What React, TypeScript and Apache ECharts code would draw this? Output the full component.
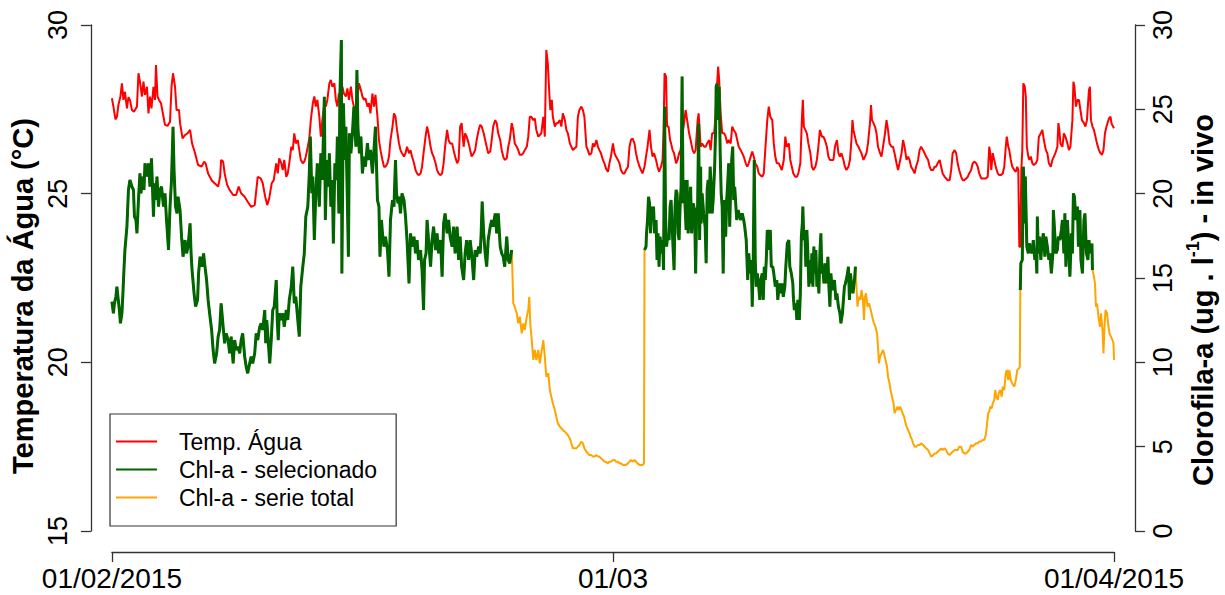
import React, { useEffect, useRef } from "react";
import * as echarts from "echarts";

// x values: fraction of the period, 0 = 01/02/2015, 1 = 01/03, 2 = 01/04/2015
const xTickLabels = ["01/02/2015", "01/03", "01/04/2015"];

// Temperatura da água (°C)
const tempData: [number, number][] = [
[0,27.83],[0.003,27.58],[0.007,27.20],[0.010,27.28],[0.013,27.63],[0.017,27.88],[0.020,28.27],[0.023,27.78],[0.026,28.02],[0.030,27.53],[0.033,27.86],[0.036,27.78],[0.040,27.48],[0.044,27.43],[0.050,27.58],[0.053,28.57],[0.056,28.32],[0.060,27.88],[0.063,28.32],[0.066,27.93],[0.070,28.17],[0.073,27.38],[0.076,27.88],[0.079,27.53],[0.083,28.17],[0.086,27.78],[0.088,28.81],[0.091,27.88],[0.094,27.78],[0.098,27.68],[0.103,27.28],[0.106,27.04],[0.111,27.01],[0.116,27.13],[0.119,28.17],[0.122,28.57],[0.126,28.17],[0.129,27.48],[0.134,27.48],[0.136,27.09],[0.141,26.64],[0.146,26.74],[0.151,26.79],[0.156,26.89],[0.160,26.49],[0.166,26.20],[0.172,25.85],[0.179,25.80],[0.184,25.95],[0.187,25.90],[0.192,25.60],[0.199,25.40],[0.205,25.31],[0.212,25.21],[0.216,25.50],[0.218,26.00],[0.222,25.95],[0.225,25.60],[0.230,25.26],[0.235,25.11],[0.242,24.96],[0.248,24.96],[0.253,25.21],[0.258,25.01],[0.265,24.91],[0.271,24.76],[0.278,24.61],[0.285,24.66],[0.291,25.50],[0.297,25.45],[0.301,25.31],[0.306,24.91],[0.310,24.66],[0.314,24.86],[0.319,25.31],[0.323,25.40],[0.328,25.90],[0.331,25.60],[0.334,26.05],[0.338,25.90],
[0.341,25.70],[0.344,26.00],[0.348,25.50],[0.351,25.60],[0.354,25.90],[0.358,26.39],[0.361,26.29],[0.364,26.79],[0.367,26.49],[0.371,26.59],[0.374,26.29],[0.377,26.00],[0.381,25.90],[0.384,25.95],[0.387,26.10],[0.391,26.39],[0.394,26.64],[0.397,27.18],[0.401,27.68],[0.404,27.88],[0.407,27.58],[0.410,27.78],[0.414,27.28],[0.417,26.69],[0.420,27.18],[0.424,27.68],[0.427,27.58],[0.430,27.78],[0.434,28.27],[0.437,28.37],[0.440,28.17],[0.444,28.27],[0.447,27.78],[0.450,27.58],[0.453,27.97],[0.457,27.58],[0.460,28.17],[0.463,27.97],[0.467,27.88],[0.470,28.12],[0.473,27.78],[0.477,28.17],[0.480,27.78],[0.483,27.58],[0.487,27.48],[0.490,27.78],[0.493,28.27],[0.497,28.07],[0.500,27.88],[0.503,27.78],[0.506,27.83],[0.510,27.58],[0.513,27.68],[0.516,27.38],[0.520,27.97],[0.523,27.58],[0.526,27.93],[0.530,27.28],[0.533,26.59],[0.536,26.29],[0.540,26.00],[0.543,25.80],[0.546,25.80],[0.550,25.90],[0.553,26.10],[0.556,26.59],[0.560,26.99],[0.563,27.38],[0.566,27.28],[0.569,26.89],[0.573,26.49],[0.576,26.29],[0.579,26.20],[0.583,26.10],[0.586,26.20],[0.589,26.39],[0.593,26.20],[0.596,26.29],[0.599,26.10],[0.603,25.90],[0.606,25.70],[0.609,25.60],[0.612,25.55],[0.616,25.60],[0.619,25.80],[0.622,26.20],[0.626,26.69],[0.629,26.99],[0.632,26.79],[0.636,26.39],[0.639,26.20],[0.642,26.10],[0.646,25.90],[0.649,25.70],[0.652,25.60],[0.656,25.55],[0.659,25.60],[0.662,25.90],[0.665,26.39],[0.669,26.89],[0.672,26.59],[0.675,26.49],
[0.679,26.49],[0.682,26.29],[0.685,26.10],[0.689,25.90],[0.692,26.00],[0.695,26.99],[0.698,27.09],[0.702,26.39],[0.705,26.79],[0.708,26.69],[0.712,26.49],[0.715,26.29],[0.718,26.10],[0.722,26.20],[0.725,26.29],[0.728,26.59],[0.732,26.89],[0.735,27.04],[0.738,26.99],[0.742,26.79],[0.745,26.59],[0.748,26.39],[0.751,26.20],[0.755,26.25],[0.758,26.59],[0.761,26.99],[0.765,27.18],[0.768,27.09],[0.771,26.79],[0.775,26.59],[0.778,26.29],[0.781,26.10],[0.784,26.00],[0.788,26.05],[0.791,26.39],[0.794,26.59],[0.798,27.09],[0.801,26.89],[0.804,26.49],[0.808,26.39],[0.811,26.29],[0.814,26.15],[0.818,26.15],[0.821,26.20],[0.824,26.29],[0.828,26.39],[0.831,26.69],[0.834,27.28],[0.837,27.28],[0.841,27.18],[0.844,27.23],[0.847,26.89],[0.851,26.69],[0.854,26.74],[0.857,26.79],[0.861,27.28],[0.864,26.69],[0.867,29.26],[0.870,28.86],[0.873,27.97],[0.875,27.48],[0.878,27.78],[0.880,27.28],[0.884,26.99],[0.887,27.09],[0.890,27.09],[0.894,27.18],[0.897,26.99],[0.900,27.38],[0.904,27.18],[0.907,26.89],[0.910,26.79],[0.914,26.49],[0.917,26.39],[0.920,26.29],[0.923,26.34],[0.927,26.39],[0.930,27.28],[0.933,27.48],[0.937,27.58],[0.940,27.48],[0.943,27.28],[0.947,26.39],[0.950,26.29],[0.953,26.15],[0.957,26.20],[0.960,26.49],[0.963,26.39],[0.967,26.59],[0.970,26.39],[0.973,26.29],[0.976,26.20],[0.980,26.00],[0.983,25.90],[0.986,25.75],[0.990,25.65],[0.993,25.90],[0.996,26.10],[1.000,26.49],[1.003,26.20],[1.006,26.10],[1.010,26.00],[1.013,25.90],
[1.016,25.70],[1.020,25.60],[1.023,25.60],[1.026,25.70],[1.030,25.80],[1.033,26.39],[1.036,26.59],[1.039,26.64],[1.043,26.49],[1.046,26.20],[1.049,26.00],[1.053,25.80],[1.056,25.70],[1.059,25.60],[1.063,25.80],[1.066,26.10],[1.069,26.39],[1.073,26.89],[1.076,26.39],[1.079,26.10],[1.082,26.20],[1.086,26.00],[1.089,25.80],[1.092,25.65],[1.096,25.80],[1.099,26.00],[1.101,26.89],[1.103,28.57],[1.106,28.47],[1.108,26.99],[1.111,26.99],[1.114,26.59],[1.116,26.49],[1.119,26.29],[1.122,26.20],[1.126,25.90],[1.129,26.00],[1.132,26.20],[1.135,26.29],[1.139,26.79],[1.142,27.09],[1.145,27.48],[1.149,27.09],[1.152,26.79],[1.155,26.59],[1.159,26.29],[1.162,26.20],[1.165,26.29],[1.169,27.18],[1.171,27.38],[1.173,26.89],[1.175,26.39],[1.178,26.49],[1.182,26.39],[1.185,26.39],[1.188,26.49],[1.192,26.59],[1.195,26.29],[1.198,26.79],[1.202,26.79],[1.205,27.38],[1.208,28.27],[1.210,28.77],[1.212,28.37],[1.215,27.38],[1.218,26.79],[1.222,26.79],[1.225,26.69],[1.228,26.49],[1.231,26.59],[1.235,26.49],[1.238,26.99],[1.241,26.89],[1.245,26.79],[1.248,26.59],[1.251,26.39],[1.255,26.29],[1.258,26.20],[1.261,26.10],[1.265,25.90],[1.268,25.80],[1.271,25.90],[1.275,26.10],[1.278,26.25],[1.281,26.10],[1.284,25.90],[1.288,25.80],[1.291,25.60],[1.294,25.55],[1.298,25.50],[1.301,25.60],[1.304,26.29],[1.308,27.18],[1.311,27.58],[1.314,27.28],[1.318,27.18],[1.321,26.49],[1.324,26.10],[1.327,25.90],[1.331,25.90],[1.334,25.80],[1.337,25.70],[1.341,26.00],[1.344,26.69],[1.347,26.39],[1.351,26.49],
[1.354,26.00],[1.357,25.80],[1.360,25.60],[1.364,25.50],[1.367,25.50],[1.370,25.60],[1.374,25.90],[1.377,27.18],[1.379,27.78],[1.381,26.99],[1.384,26.89],[1.387,26.79],[1.390,26.49],[1.394,26.20],[1.397,25.80],[1.400,25.70],[1.404,25.80],[1.407,26.00],[1.410,26.39],[1.413,26.89],[1.417,26.69],[1.420,26.69],[1.423,26.59],[1.427,26.39],[1.430,26.10],[1.433,26.00],[1.437,26.00],[1.440,26.00],[1.443,26.39],[1.447,26.59],[1.450,26.20],[1.453,26.10],[1.456,26.20],[1.460,26.00],[1.463,25.80],[1.466,25.70],[1.470,25.80],[1.473,26.00],[1.476,26.59],[1.478,27.18],[1.480,26.89],[1.483,26.69],[1.486,26.49],[1.490,26.39],[1.493,26.29],[1.496,26.20],[1.500,26.00],[1.503,26.10],[1.506,26.20],[1.509,26.49],[1.513,27.09],[1.515,27.63],[1.517,27.18],[1.520,27.09],[1.523,26.99],[1.526,26.79],[1.529,26.39],[1.533,26.20],[1.536,26.10],[1.539,26.39],[1.543,26.79],[1.546,27.18],[1.549,26.89],[1.552,26.49],[1.556,26.39],[1.559,26.39],[1.562,26.20],[1.566,25.90],[1.569,25.70],[1.572,25.90],[1.576,26.20],[1.579,26.59],[1.582,26.39],[1.586,26.00],[1.589,26.10],[1.592,26.00],[1.595,25.80],[1.599,25.70],[1.602,25.60],[1.605,25.80],[1.609,26.00],[1.612,26.29],[1.615,26.39],[1.619,26.29],[1.622,26.20],[1.625,26.10],[1.629,26.00],[1.632,25.80],[1.635,25.70],[1.639,25.70],[1.642,25.80],[1.645,25.80],[1.648,25.90],[1.652,26.00],[1.655,25.80],[1.658,25.60],[1.662,25.50],[1.665,25.45],[1.668,25.40],[1.672,25.40],[1.675,25.70],[1.678,26.20],[1.682,26.29],[1.685,26.20],[1.688,25.90],
[1.691,25.70],[1.695,25.50],[1.698,25.40],[1.701,25.40],[1.705,25.45],[1.708,25.50],[1.711,25.60],[1.715,25.70],[1.718,25.90],[1.721,25.95],[1.725,25.90],[1.728,25.80],[1.731,25.60],[1.735,25.45],[1.738,25.45],[1.741,25.45],[1.744,25.45],[1.748,25.50],[1.751,26.39],[1.753,26.20],[1.755,25.70],[1.758,26.20],[1.761,26.00],[1.764,25.80],[1.768,25.60],[1.771,25.55],[1.774,25.55],[1.778,25.60],[1.781,25.80],[1.784,26.39],[1.786,26.69],[1.789,26.39],[1.791,26.29],[1.794,26.00],[1.797,25.80],[1.801,25.70],[1.804,25.65],[1.807,25.80],[1.809,25.70],[1.811,23.43],[1.813,23.43],[1.815,25.70],[1.817,26.29],[1.819,28.27],[1.822,28.17],[1.824,27.88],[1.826,26.39],[1.829,26.10],[1.831,26.00],[1.834,26.10],[1.837,25.90],[1.840,25.85],[1.844,25.90],[1.847,26.00],[1.850,26.69],[1.854,26.79],[1.857,26.89],[1.860,26.59],[1.864,26.29],[1.867,26.20],[1.870,25.90],[1.874,25.80],[1.877,26.00],[1.880,26.10],[1.883,26.20],[1.887,26.39],[1.889,27.09],[1.891,26.89],[1.893,26.49],[1.897,26.39],[1.900,26.79],[1.903,26.69],[1.907,26.49],[1.910,26.29],[1.913,26.39],[1.917,27.18],[1.919,28.32],[1.921,28.17],[1.924,27.58],[1.927,27.78],[1.930,27.78],[1.933,27.48],[1.936,27.18],[1.940,27.09],[1.943,26.99],[1.946,27.18],[1.950,28.07],[1.952,28.17],[1.954,27.18],[1.957,26.99],[1.960,26.89],[1.963,26.69],[1.966,26.49],[1.970,26.29],[1.973,26.20],[1.976,26.15],[1.979,26.29],[1.982,26.79],[1.985,26.99],[1.987,27.09],[1.990,27.23],[1.993,27.28],[1.995,27.09],[1.998,26.99],[2.000,26.94]
];

// Clorofila-a (ug/l) - serie total
const chlData: [number, number][] = [
[0.000,13.60],[0.003,12.91],[0.005,13.50],[0.008,13.89],[0.010,14.49],[0.012,13.89],[0.015,13.10],[0.017,12.31],[0.020,12.91],[0.022,14.09],[0.024,15.47],[0.026,16.66],[0.030,18.04],[0.033,20.22],[0.036,20.81],[0.040,20.41],[0.043,20.22],[0.045,18.64],[0.048,18.44],[0.050,17.65],[0.053,19.63],[0.056,21.20],[0.058,20.02],[0.061,21.01],[0.064,20.22],[0.066,21.80],[0.070,21.01],[0.073,21.80],[0.076,20.41],[0.079,22.09],[0.083,18.64],[0.085,20.61],[0.087,19.63],[0.090,21.01],[0.093,19.23],[0.096,20.22],[0.099,20.41],[0.103,19.23],[0.106,20.02],[0.109,18.44],[0.113,16.66],[0.116,19.23],[0.119,20.81],[0.122,23.97],[0.124,21.40],[0.127,19.23],[0.130,18.83],[0.132,19.82],[0.136,19.03],[0.139,17.45],[0.142,16.26],[0.146,17.25],[0.149,16.46],[0.152,16.86],[0.156,18.24],[0.158,16.46],[0.160,15.47],[0.164,14.09],[0.167,13.30],[0.171,13.70],[0.173,15.27],[0.176,16.26],[0.180,15.67],[0.183,16.46],[0.185,15.87],[0.189,14.88],[0.192,13.70],[0.195,12.91],[0.199,11.92],[0.202,10.73],[0.205,9.94],[0.209,10.53],[0.212,11.52],[0.215,11.92],[0.218,13.50],[0.222,12.11],[0.225,11.13],[0.228,11.72],[0.232,11.32],[0.235,10.53],[0.238,11.52],[0.242,9.94],[0.245,11.32],[0.248,10.73],[0.252,10.93],[0.255,10.53],[0.258,11.32],[0.261,11.72],[0.265,10.34],[0.268,9.74],[0.271,9.35],[0.275,9.94],[0.278,10.34],[0.281,9.94],[0.285,10.53],[0.288,11.72],[0.291,11.32],[0.295,12.11],[0.298,12.31],[0.301,11.92],[0.305,13.10],[0.307,11.13],[0.309,12.51],[0.311,11.72],[0.315,9.94],[0.318,11.32],[0.321,13.10],[0.324,13.30],[0.328,14.88],[0.330,12.51],[0.332,11.32],[0.334,12.91],[0.338,12.51],
[0.341,12.91],[0.344,12.11],[0.348,13.10],[0.351,12.51],[0.354,13.70],[0.358,14.49],[0.361,15.67],[0.364,13.50],[0.367,13.89],[0.371,12.51],[0.374,11.52],[0.377,14.49],[0.381,15.67],[0.384,16.46],[0.387,18.64],[0.391,19.23],[0.394,21.20],[0.396,23.38],[0.399,20.02],[0.401,21.01],[0.404,17.25],[0.407,20.02],[0.410,21.80],[0.414,19.23],[0.417,22.39],[0.420,20.81],[0.424,25.75],[0.426,18.44],[0.429,22.00],[0.432,20.41],[0.434,22.39],[0.437,19.23],[0.440,20.81],[0.442,17.05],[0.445,21.80],[0.448,20.81],[0.450,23.38],[0.453,18.83],[0.455,25.75],[0.458,29.11],[0.459,15.27],[0.462,25.36],[0.465,22.00],[0.467,23.97],[0.470,19.43],[0.472,16.26],[0.474,23.58],[0.477,22.39],[0.480,23.58],[0.483,25.16],[0.487,22.79],[0.489,27.33],[0.491,23.97],[0.494,22.39],[0.497,23.38],[0.500,21.20],[0.503,22.19],[0.506,21.60],[0.510,22.99],[0.513,22.00],[0.516,22.59],[0.520,21.20],[0.523,22.59],[0.526,23.97],[0.530,19.62],[0.533,19.23],[0.535,16.26],[0.538,18.44],[0.540,17.65],[0.543,16.86],[0.546,17.45],[0.550,16.66],[0.553,15.08],[0.556,18.44],[0.560,19.62],[0.563,19.23],[0.566,22.00],[0.568,20.02],[0.571,19.43],[0.573,19.82],[0.576,18.83],[0.579,20.02],[0.583,19.62],[0.586,18.64],[0.589,17.25],[0.593,14.68],[0.596,17.65],[0.599,16.86],[0.603,17.45],[0.606,16.46],[0.609,17.25],[0.612,16.07],[0.616,16.66],[0.619,15.47],[0.622,13.10],[0.624,16.07],[0.627,16.46],[0.629,18.44],[0.632,17.25],[0.636,15.67],[0.639,17.25],[0.642,18.04],[0.646,16.66],[0.649,17.65],[0.652,16.46],[0.656,17.25],[0.659,15.08],[0.662,18.24],[0.665,18.83],[0.669,17.65],[0.672,18.44],[0.675,17.45],
[0.679,16.86],[0.682,18.04],[0.685,16.46],[0.689,18.04],[0.692,16.07],[0.695,17.45],[0.698,15.67],[0.702,14.88],[0.705,16.46],[0.708,17.25],[0.712,16.07],[0.715,17.25],[0.718,16.46],[0.722,14.88],[0.725,16.66],[0.728,16.26],[0.732,16.86],[0.735,16.46],[0.737,17.65],[0.739,19.53],[0.742,17.65],[0.745,16.46],[0.748,15.67],[0.751,17.25],[0.755,18.04],[0.758,18.44],[0.761,18.04],[0.765,18.83],[0.768,17.65],[0.771,18.83],[0.775,16.86],[0.778,16.46],[0.781,16.26],[0.784,15.67],[0.788,17.45],[0.791,16.07],[0.794,15.87],[0.798,16.66],[0.800,14.68],[0.801,13.50],[0.804,13.30],[0.808,12.91],[0.811,12.31],[0.814,12.71],[0.818,11.72],[0.821,12.31],[0.824,11.92],[0.828,12.71],[0.831,13.10],[0.833,13.89],[0.835,12.31],[0.838,11.32],[0.841,10.14],[0.844,10.73],[0.847,10.14],[0.851,10.73],[0.854,9.94],[0.857,10.53],[0.861,11.32],[0.864,10.34],[0.867,9.15],[0.871,9.35],[0.874,8.36],[0.877,7.96],[0.880,7.57],[0.884,7.17],[0.887,6.78],[0.890,6.38],[0.894,6.19],[0.897,6.09],[0.900,5.99],[0.904,5.89],[0.907,5.79],[0.910,5.69],[0.914,5.49],[0.917,5.20],[0.920,4.90],[0.923,4.90],[0.927,4.90],[0.930,5.00],[0.933,5.10],[0.937,5.30],[0.940,5.20],[0.943,4.90],[0.947,4.70],[0.950,4.60],[0.953,4.50],[0.957,4.50],[0.960,4.41],[0.963,4.41],[0.967,4.50],[0.970,4.41],[0.973,4.41],[0.976,4.31],[0.980,4.21],[0.983,4.11],[0.986,4.11],[0.990,4.01],[0.993,4.11],[0.996,4.11],[1.000,4.21],[1.003,4.21],[1.006,4.11],[1.010,4.11],[1.013,4.01],
[1.016,4.01],[1.020,3.91],[1.026,3.91],[1.030,4.01],[1.033,4.11],[1.036,4.21],[1.039,4.11],[1.043,4.21],[1.046,4.11],[1.049,4.01],[1.053,3.91],[1.056,3.91],[1.059,3.91],[1.062,4.01],[1.063,16.66],[1.066,16.86],[1.067,17.65],[1.069,18.44],[1.071,19.82],[1.073,19.43],[1.075,17.65],[1.077,19.23],[1.079,18.44],[1.081,19.23],[1.083,17.65],[1.086,18.44],[1.088,16.07],[1.090,17.65],[1.092,15.67],[1.094,17.45],[1.097,16.46],[1.099,17.25],[1.101,15.47],[1.103,25.16],[1.105,18.64],[1.107,16.86],[1.109,17.45],[1.112,17.25],[1.114,19.23],[1.116,19.62],[1.119,17.45],[1.122,15.47],[1.124,19.23],[1.126,20.22],[1.128,20.02],[1.130,17.65],[1.132,17.25],[1.134,19.23],[1.136,20.41],[1.138,26.94],[1.140,19.43],[1.142,20.81],[1.144,19.23],[1.146,17.85],[1.148,20.81],[1.150,17.65],[1.152,18.44],[1.155,20.41],[1.157,17.65],[1.160,19.43],[1.163,19.03],[1.165,15.27],[1.167,18.83],[1.169,19.23],[1.171,24.17],[1.173,17.25],[1.175,21.60],[1.176,18.24],[1.178,20.02],[1.181,18.83],[1.184,18.04],[1.186,15.87],[1.188,20.22],[1.190,20.81],[1.192,18.83],[1.194,21.60],[1.196,20.41],[1.198,18.83],[1.200,19.62],[1.203,21.60],[1.205,23.97],[1.206,26.34],[1.208,26.54],[1.210,24.37],[1.212,26.34],[1.214,22.39],[1.216,20.02],[1.218,19.23],[1.220,15.27],[1.222,19.62],[1.225,17.45],[1.227,19.62],[1.229,20.61],[1.231,21.80],[1.233,18.04],[1.235,20.41],[1.237,22.00],[1.239,22.79],[1.241,19.62],[1.243,20.41],[1.245,19.43],[1.247,18.44],[1.250,19.03],[1.253,18.64],[1.255,18.44],[1.258,18.83],[1.261,18.44],[1.263,18.04],[1.266,17.25],[1.269,14.88],[1.271,16.46],[1.274,15.27],[1.276,16.07],[1.278,13.30],[1.280,16.07],[1.282,22.00],[1.284,16.07],[1.286,14.49],[1.288,15.27],[1.291,14.49],[1.293,13.70],[1.295,14.88],[1.298,15.27],[1.300,13.70],[1.302,15.67],[1.304,14.88],[1.306,16.07],[1.308,17.85],[1.311,16.66],[1.314,17.85],[1.316,15.67],[1.319,15.67],[1.321,15.27],[1.324,14.49],[1.327,14.88],[1.329,13.70],[1.332,14.68],[1.335,14.09],[1.337,14.68],[1.340,13.89],[1.343,14.49],[1.345,15.67],[1.348,17.05],[1.351,17.25],
[1.353,15.67],[1.356,15.27],[1.359,14.68],[1.360,13.89],[1.362,13.10],[1.365,13.50],[1.367,12.51],[1.369,13.70],[1.372,12.51],[1.374,14.09],[1.376,17.45],[1.378,18.24],[1.379,19.23],[1.381,17.25],[1.383,17.85],[1.385,15.67],[1.387,17.85],[1.389,16.46],[1.391,14.49],[1.393,16.07],[1.395,14.68],[1.397,16.46],[1.399,14.49],[1.401,16.86],[1.403,15.27],[1.405,16.66],[1.407,14.49],[1.409,15.27],[1.411,14.09],[1.413,16.46],[1.415,17.65],[1.417,15.27],[1.419,15.67],[1.421,14.68],[1.423,15.87],[1.425,14.68],[1.427,15.27],[1.429,16.26],[1.431,14.49],[1.433,13.30],[1.435,15.27],[1.437,14.49],[1.439,14.29],[1.442,14.88],[1.445,13.70],[1.447,14.09],[1.450,13.30],[1.453,12.91],[1.455,12.31],[1.458,12.91],[1.460,13.70],[1.462,14.49],[1.464,14.68],[1.467,15.08],[1.470,15.67],[1.472,13.70],[1.474,15.27],[1.476,14.68],[1.479,14.09],[1.482,14.88],[1.484,15.67],[1.486,14.49],[1.488,13.30],[1.491,13.89],[1.494,13.70],[1.496,14.29],[1.499,13.70],[1.501,12.51],[1.503,13.89],[1.505,14.09],[1.508,13.30],[1.511,13.50],[1.513,13.30],[1.516,12.91],[1.519,12.51],[1.521,12.31],[1.524,12.11],[1.527,11.72],[1.529,10.93],[1.531,9.94],[1.533,10.34],[1.536,10.53],[1.539,10.73],[1.541,10.53],[1.544,10.14],[1.547,9.74],[1.549,9.15],[1.552,8.75],[1.554,8.36],[1.557,7.96],[1.560,7.57],[1.562,6.98],[1.565,7.17],[1.568,7.37],[1.570,7.17],[1.573,7.37],[1.576,7.17],[1.578,6.98],[1.581,6.78],[1.584,6.38],[1.586,6.19],[1.589,5.99],[1.592,5.79],[1.594,5.59],[1.597,5.40],[1.599,5.20],[1.602,5.00],[1.605,5.00],[1.609,5.10],[1.612,5.10],[1.615,5.20],[1.619,5.10],[1.622,5.00],[1.625,4.90],[1.629,4.80],[1.632,4.60],[1.635,4.41],[1.639,4.50],[1.642,4.60],[1.645,4.60],[1.648,4.70],[1.652,4.80],[1.655,4.90],[1.658,4.80],[1.662,4.90],[1.665,4.80],[1.668,4.60],[1.672,4.50],[1.675,4.60],[1.678,4.70],[1.682,4.80],[1.685,4.80],[1.688,4.80],
[1.691,5.00],[1.695,5.00],[1.698,4.70],[1.701,4.60],[1.705,4.60],[1.708,4.70],[1.711,4.80],[1.715,5.10],[1.718,5.00],[1.721,5.10],[1.725,5.20],[1.728,5.20],[1.731,5.30],[1.735,5.30],[1.738,5.40],[1.741,5.40],[1.744,5.69],[1.746,6.19],[1.749,6.98],[1.751,7.08],[1.753,7.37],[1.756,7.27],[1.758,7.57],[1.761,7.77],[1.763,8.36],[1.765,7.96],[1.768,7.77],[1.770,8.16],[1.773,8.36],[1.776,7.96],[1.778,8.56],[1.781,8.36],[1.784,9.35],[1.786,9.55],[1.789,8.95],[1.791,9.55],[1.794,8.95],[1.797,8.75],[1.801,8.56],[1.804,8.95],[1.807,9.55],[1.810,9.64],[1.812,9.74],[1.813,14.29],[1.814,15.87],[1.817,16.07],[1.818,19.03],[1.819,21.60],[1.821,20.02],[1.822,18.24],[1.823,21.01],[1.825,18.24],[1.826,16.86],[1.829,16.46],[1.831,17.05],[1.834,16.66],[1.836,16.46],[1.839,17.25],[1.842,16.07],[1.844,16.66],[1.846,15.27],[1.847,18.64],[1.849,16.46],[1.851,17.45],[1.854,16.07],[1.856,17.05],[1.859,17.65],[1.862,16.26],[1.864,17.45],[1.867,16.86],[1.870,16.07],[1.872,16.46],[1.875,15.27],[1.878,16.46],[1.879,19.03],[1.881,18.04],[1.884,16.46],[1.887,16.66],[1.889,17.45],[1.892,17.25],[1.895,17.85],[1.897,18.44],[1.900,16.46],[1.902,18.83],[1.904,15.67],[1.907,18.44],[1.909,17.25],[1.912,15.08],[1.915,17.65],[1.917,16.46],[1.919,20.02],[1.921,19.82],[1.924,18.44],[1.927,19.23],[1.929,16.86],[1.932,19.03],[1.934,16.07],[1.937,15.27],[1.940,18.44],[1.942,18.83],[1.945,16.46],[1.948,16.07],[1.950,17.25],[1.953,16.46],[1.956,17.05],[1.957,15.47],[1.960,15.08],[1.962,14.68],[1.964,13.30],[1.966,13.50],[1.969,12.71],[1.972,12.11],[1.974,12.91],[1.977,11.92],[1.979,10.53],[1.981,12.11],[1.983,13.10],[1.986,12.91],[1.989,12.11],[1.991,11.72],[1.994,11.52],[1.997,11.32],[1.999,11.13],[2.000,10.14]
];

// periods of the chlorophyll series that were selected (same x units)
const selectedWindows: [number, number][] = [[0, 0.798], [1.063, 1.484], [1.813, 1.957]];

const seriesNames = ["Temp. Água", "Chl-a - selecionado", "Chl-a - serie total"];
const FONT = "'Liberation Sans', Arial, Helvetica, sans-serif";
const AXIS_COLOR = "#333";

export default function App() {
  const ref = useRef<HTMLDivElement>(null);
  useEffect(() => {
    document.body.style.margin = "0";
    if (!ref.current) return;
    const chart = echarts.init(ref.current, undefined, { renderer: "svg" });
    const inSel = (x: number) => selectedWindows.some(([a, b]) => x >= a - 1e-9 && x <= b + 1e-9);
    const chlSelected = chlData.map(([x, y]) => (inSel(x) ? [x, y] : [x, "-"]));
    const axisLine = { show: true, onZero: false, lineStyle: { color: AXIS_COLOR, width: 1.3 } };
    const axisTick = { show: true, length: 10, lineStyle: { color: AXIS_COLOR, width: 1.3 } };
    chart.setOption({
      animation: false,
      backgroundColor: "#ffffff",
      textStyle: { fontFamily: FONT },
      grid: { left: 110, top: 25, width: 1007, height: 506 },
      legend: {
        left: 110,
        top: 414,
        orient: "vertical",
        data: seriesNames,
        icon: "rect",
        itemWidth: 41,
        itemHeight: 2,
        itemGap: 5,
        padding: [16, 19, 17, 6],
        borderColor: AXIS_COLOR,
        borderWidth: 1.2,
        selectedMode: false,
        textStyle: { fontSize: 23, color: "#000", fontFamily: FONT, padding: [0, 0, 0, 17] },
      },
      xAxis: {
        type: "value",
        min: 0,
        max: 2,
        interval: 1,
        offset: 21,
        axisLine,
        axisTick,
        splitLine: { show: false },
        axisLabel: {
          fontSize: 28,
          color: "#000",
          fontFamily: FONT,
          margin: 12,
          formatter: (v: number) => xTickLabels[Math.round(v)] ?? "",
        },
      },
      yAxis: [
        {
          type: "value",
          min: 15,
          max: 30,
          interval: 5,
          position: "left",
          offset: 21,
          name: "Temperatura da Água (°C)",
          nameLocation: "middle",
          nameRotate: 90,
          nameGap: 46,
          nameTextStyle: { fontSize: 29, fontWeight: "bold", color: "#000", fontFamily: FONT, padding: [0, 36, 0, 0] },
          axisLine,
          axisTick,
          splitLine: { show: false },
          axisLabel: { rotate: 90, fontSize: 27, color: "#000", fontFamily: FONT, margin: 19 },
        },
        {
          type: "value",
          min: 0,
          max: 30,
          interval: 5,
          position: "right",
          offset: 21,
          name: "{t|Clorofila-a (ug . l}{s|-1}{t|) - in vivo}",
          nameLocation: "middle",
          nameRotate: 90,
          nameGap: 49,
          nameTextStyle: {
            fontSize: 29,
            fontWeight: "bold",
            color: "#000",
            fontFamily: FONT,
            padding: [0, 44, 0, 0],
            rich: {
              t: { fontSize: 29, fontWeight: "bold", color: "#000", fontFamily: FONT, lineHeight: 33, verticalAlign: "bottom" },
              s: { fontSize: 18, fontWeight: "bold", color: "#000", fontFamily: FONT, lineHeight: 18, verticalAlign: "top" },
            },
          },
          axisLine,
          axisTick,
          splitLine: { show: false },
          axisLabel: { rotate: 90, fontSize: 27, color: "#000", fontFamily: FONT, margin: 14 },
        },
      ],
      series: [
        {
          name: seriesNames[0],
          type: "line",
          yAxisIndex: 0,
          data: tempData,
          symbol: "none",
          lineStyle: { color: "#ff0000", width: 2 },
          itemStyle: { color: "#ff0000" },
        },
        {
          name: seriesNames[2],
          type: "line",
          yAxisIndex: 1,
          data: chlData,
          symbol: "none",
          lineStyle: { color: "#ffa500", width: 2 },
          itemStyle: { color: "#ffa500" },
        },
        {
          name: seriesNames[1],
          type: "line",
          yAxisIndex: 1,
          data: chlSelected,
          symbol: "none",
          connectNulls: false,
          lineStyle: { color: "#006400", width: 3 },
          itemStyle: { color: "#006400" },
        },
      ],
    });
    return () => chart.dispose();
  }, []);
  return <div ref={ref} style={{ width: 1225, height: 595 }} />;
}
